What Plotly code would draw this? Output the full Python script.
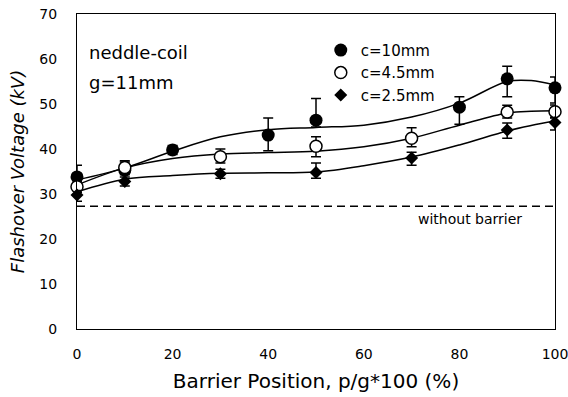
import plotly.graph_objects as go

# ---- data ----
x10 = [0, 10, 20, 40, 50, 80, 90, 100]
y10 = [33.8, 35.3, 39.8, 43.1, 46.4, 49.3, 55.6, 53.6]
e10_plus = [2.6, 1.8, 1.0, 3.8, 4.8, 2.3, 2.8, 2.4]
e10_minus = [1.5, 1.0, 1.0, 3.5, 1.5, 3.8, 4.0, 3.4]

x45 = [0, 10, 30, 50, 70, 90, 100]
y45 = [31.6, 35.9, 38.3, 40.6, 42.4, 48.2, 48.3]
e45_plus = [1.2, 1.5, 1.7, 2.1, 2.3, 1.5, 1.5]
e45_minus = [1.2, 1.2, 1.4, 2.3, 1.9, 1.3, 1.3]

x25 = [0, 10, 30, 50, 70, 90, 100]
y25 = [29.8, 32.8, 34.5, 34.8, 38.0, 44.2, 45.9]
e25_plus = [1.0, 1.0, 1.0, 2.1, 1.3, 1.6, 1.0]
e25_minus = [1.4, 1.0, 1.0, 1.3, 1.6, 1.8, 1.7]

fit_x = [0, 10, 20, 30, 40, 50, 60, 70, 80, 90, 95, 100]
fit10 = [33.1, 35.8, 39.5, 42.7, 44.3, 44.8, 45.3, 47.1, 50.2, 55.0, 55.2, 54.2]
fit45 = [32.0, 35.8, 37.9, 38.9, 39.2, 39.5, 40.5, 42.4, 45.3, 48.0, 48.4, 48.5]
fit25 = [30.5, 33.3, 34.1, 34.6, 34.7, 34.9, 36.3, 38.2, 40.9, 44.0, 45.2, 46.2]

base_x = [0, 100]
base_y = [27.3, 27.3]

x_ticks = [0, 20, 40, 60, 80, 100]
y_ticks = [0, 10, 20, 30, 40, 50, 60, 70]

FONT = "DejaVu Sans, Liberation Sans, Arial, sans-serif"

fig = go.Figure()

for fy in (fit10, fit45, fit25):
    fig.add_trace(go.Scatter(x=fit_x, y=fy, mode="lines", line=dict(color="black", width=1.5, shape="spline"),
                             showlegend=False, hoverinfo="skip"))

fig.add_trace(go.Scatter(x=base_x, y=base_y, mode="lines", line=dict(color="black", width=1.5, dash="8px,5px"),
                         showlegend=False, hoverinfo="skip"))

def err(p, m):
    return dict(type="data", symmetric=False, array=p, arrayminus=m, color="black", thickness=1.5, width=5)

fig.add_trace(go.Scatter(x=x10, y=y10, mode="markers", name="c=10mm", cliponaxis=False,
                         marker=dict(symbol="circle", size=13, color="black"),
                         error_y=err(e10_plus, e10_minus)))
fig.add_trace(go.Scatter(x=x45, y=y45, mode="markers", name="c=4.5mm", cliponaxis=False,
                         marker=dict(symbol="circle", size=12, color="white", line=dict(color="black", width=1.5)),
                         error_y=err(e45_plus, e45_minus)))
fig.add_trace(go.Scatter(x=x25, y=y25, mode="markers", name="c=2.5mm", cliponaxis=False,
                         marker=dict(symbol="diamond", size=10, color="black"),
                         error_y=err(e25_plus, e25_minus)))

fig.add_annotation(x=0.02, y=0.879, xref="paper", yref="paper", text="neddle-coil", showarrow=False,
                   xanchor="left", yanchor="middle", font=dict(family=FONT, size=18, color="black"))
fig.add_annotation(x=0.02, y=0.781, xref="paper", yref="paper", text="g=11mm", showarrow=False,
                   xanchor="left", yanchor="middle", font=dict(family=FONT, size=18, color="black"))
fig.add_annotation(x=93.5, y=24.4, text="without barrier", showarrow=False,
                   xanchor="right", yanchor="middle", font=dict(family=FONT, size=14, color="black"))

fig.update_layout(
    width=568, height=397,
    margin=dict(l=77, r=13, t=14, b=68),
    paper_bgcolor="white", plot_bgcolor="white",
    font=dict(family=FONT, color="black", size=14),
    legend=dict(x=0.51, y=0.937, xanchor="left", yanchor="top", bgcolor="rgba(0,0,0,0)",
                font=dict(family=FONT, size=15), itemwidth=30, tracegroupgap=0),
    xaxis=dict(range=[0, 100], tickvals=x_ticks, showgrid=False, zeroline=False, automargin=False,
               showline=True, linecolor="black", linewidth=1.2, mirror=True, ticks="", ticklabelstandoff=12,
               ticklabeloverflow="allow",
               tickfont=dict(size=14), title=dict(text="Barrier Position, p/g*100 (%)", font=dict(size=20), standoff=13)),
    yaxis=dict(range=[0, 70], tickvals=y_ticks, showgrid=False, zeroline=False, automargin=False,
               showline=True, linecolor="black", linewidth=1.2, mirror=True, ticks="", ticklabelstandoff=16,
               ticklabeloverflow="allow",
               tickfont=dict(size=14), title=dict(text="<i>Flashover Voltage (kV)</i>", font=dict(size=18), standoff=9)),
)

fig.write_html("out.html")
